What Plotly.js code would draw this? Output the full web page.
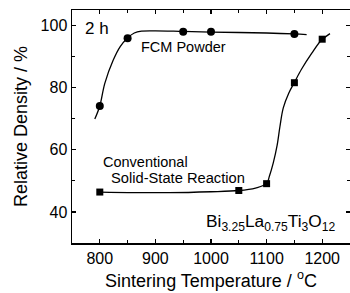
<!DOCTYPE html>
<html>
<head>
<meta charset="utf-8">
<script src="https://cdn.plot.ly/plotly-3.0.1.min.js"></script>
<style>html,body{margin:0;padding:0;background:#fff;}#chart{width:350px;height:293px;}</style>
</head>
<body>
<div id="chart"></div>
<script>
// FCM Powder measured points
const fcmTemp = [800, 850, 950, 1000, 1150];
const fcmDensity = [74.1, 95.9, 98.0, 98.0, 97.3];
// FCM fitted curve
const fcmCurveTemp = [791, 800, 809, 824, 837, 850, 862, 875, 900, 950, 1000, 1100, 1150, 1172];
const fcmCurveDensity = [69.9, 74.1, 81.4, 88.8, 93.3, 96.0, 97.6, 98.2, 98.3, 98.1, 97.9, 97.6, 97.3, 97.1];
// Conventional solid-state reaction measured points
const convTemp = [800, 1050, 1100, 1150, 1200];
const convDensity = [46.4, 46.9, 49.1, 81.6, 95.6];
// Conventional fitted curve (hand-read)
const convCurveTemp = [800, 925, 1000, 1050, 1080, 1100, 1105, 1112, 1119, 1124, 1130, 1140, 1150, 1163, 1181, 1198, 1214];
const convCurveDensity = [46.4, 46.2, 46.5, 46.9, 47.7, 49.1, 51.5, 55.8, 61.5, 67.5, 73.5, 78.3, 81.7, 86.0, 91.0, 95.2, 97.4];

const xTickVals = [800, 900, 1000, 1100, 1200];
const yTickVals = [40, 60, 80, 100];

const FONT = 'Liberation Sans, Arial, sans-serif';

const traces = [
  {x: fcmCurveTemp, y: fcmCurveDensity, mode: 'lines', line: {color: '#000', width: 1.3, shape: 'spline', smoothing: 1}, hoverinfo: 'skip'},
  {x: fcmTemp, y: fcmDensity, mode: 'markers', marker: {symbol: 'circle', size: 8, color: '#000'}},
  {x: convCurveTemp, y: convCurveDensity, mode: 'lines', line: {color: '#000', width: 1.3, shape: 'spline', smoothing: 1}, hoverinfo: 'skip'},
  {x: convTemp, y: convDensity, mode: 'markers', marker: {symbol: 'square', size: 7, color: '#000'}}
];

const axisCommon = {
  showline: true, linecolor: '#000', linewidth: 1.5, mirror: 'ticks',
  ticks: 'inside', ticklen: 4, tickwidth: 1.2, tickcolor: '#000',
  showgrid: false, zeroline: false,
  tickfont: {family: FONT, size: 16, color: '#000'}
};

const layout = {
  width: 350, height: 293,
  margin: {l: 72, r: 0, t: 10, b: 50},
  paper_bgcolor: '#fff', plot_bgcolor: '#fff',
  showlegend: false,
  font: {family: FONT, color: '#000'},
  xaxis: Object.assign({}, axisCommon, {
    range: [750, 1250], tickvals: xTickVals, ticktext: xTickVals.map(String),
    minor: {dtick: 50, tick0: 750, ticks: 'inside', ticklen: 3, tickcolor: '#000', tickwidth: 1.2},
    title: {text: 'Sintering Temperature / <sup>o</sup>C', font: {family: FONT, size: 18, color: '#000'}, standoff: 8}
  }),
  yaxis: Object.assign({}, axisCommon, {
    range: [30, 105], tickvals: yTickVals, ticktext: yTickVals.map(String),
    minor: {dtick: 10, tick0: 30, ticks: 'inside', ticklen: 3, tickcolor: '#000', tickwidth: 1.2},
    title: {text: 'Relative Density / %', font: {family: FONT, size: 18, color: '#000'}, standoff: 8}
  }),
  annotations: [
    {text: '2 h', x: 769.8, y: 98.9, xref: 'x', yref: 'y', xanchor: 'left', yanchor: 'middle', showarrow: false, font: {family: FONT, size: 17, color: '#000'}},
    {text: 'FCM Powder', x: 871, y: 93.1, xref: 'x', yref: 'y', xanchor: 'left', yanchor: 'middle', showarrow: false, font: {family: FONT, size: 14.5, color: '#000'}},
    {text: 'Conventional', x: 883, y: 56.2, xref: 'x', yref: 'y', xanchor: 'center', yanchor: 'middle', showarrow: false, font: {family: FONT, size: 14.5, color: '#000'}},
    {text: 'Solid-State Reaction', x: 940.6, y: 50.8, xref: 'x', yref: 'y', xanchor: 'center', yanchor: 'middle', showarrow: false, font: {family: FONT, size: 14.7, color: '#000'}},
    {text: 'Bi<sub>3.25</sub>La<sub>0.75</sub>Ti<sub>3</sub>O<sub>12</sub>', x: 1227, y: 36.5, xref: 'x', yref: 'y', xanchor: 'right', yanchor: 'middle', showarrow: false, font: {family: FONT, size: 17.3, color: '#000'}}
  ]
};

Plotly.newPlot('chart', traces, layout, {staticPlot: true, displayModeBar: false});
</script>
</body>
</html>
